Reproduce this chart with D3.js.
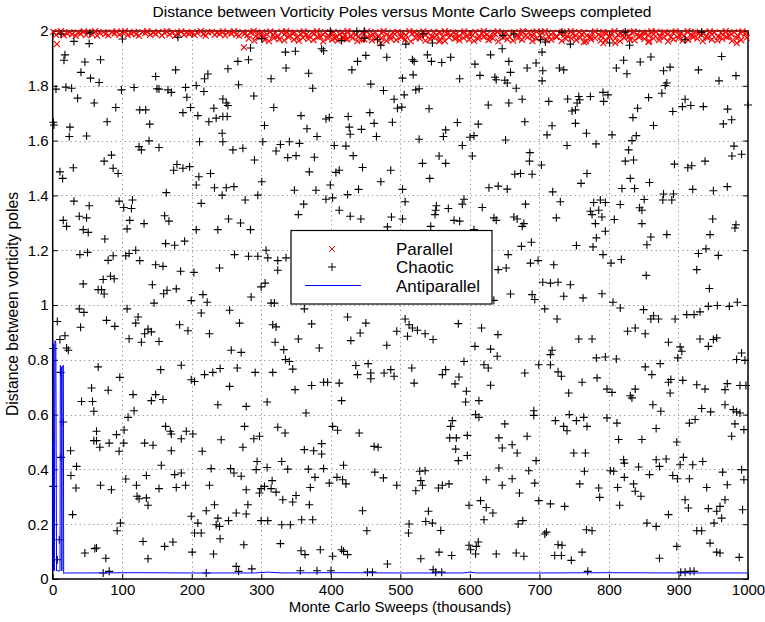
<!DOCTYPE html>
<html>
<head>
<meta charset="utf-8">
<script src="https://cdn.jsdelivr.net/npm/d3@7"></script>
<style>
  body { margin: 0; background: #fff; }
  svg { display: block; font-family: "Liberation Sans", Arial, Helvetica, sans-serif; }
</style>
</head>
<body>
<div id="chart"></div>
<script>
'use strict';

var outerWidth = 765;
var outerHeight = 622;

// tick values
var xTicks = [0, 100, 200, 300, 400, 500, 600, 700, 800, 900, 1000];
var yTicks = [0, 0.2, 0.4, 0.6, 0.8, 1, 1.2, 1.4, 1.6, 1.8, 2];

var titleText = 'Distance between Vorticity Poles versus Monte Carlo Sweeps completed';
var xLabelText = 'Monte Carlo Sweeps (thousands)';
var yLabelText = 'Distance between vorticity poles';
var seriesNames = ['Parallel', 'Chaotic', 'Antiparallel'];

// parallel run: sits right at the top, a dense red band
var parallelX = [
  1,5,9,12,16,21,24,28,33,36, 40,45,48,52,57,61,64,68,73,76,
  80,85,89,92,96,101,104,108,113,117, 120,124,129,133,136,140,145,148,152,157,
  161,164,168,173,176,180,185,189,192,196, 201,204,208,213,217,220,224,229,233,236,
  240,245,248,252,257,261,264,268,273,276, 280,285,289,292,296,301,304,308,313,317,
  320,324,329,333,336,340,345,348,352,357, 361,364,368,373,376,380,385,389,392,396,
  401,404,408,413,417,420,424,429,433,436, 440,445,448,452,457,461,464,468,473,476,
  480,485,489,492,496,501,504,508,513,517, 520,524,529,533,536,540,545,548,552,557,
  561,564,568,573,576,580,585,589,592,596, 601,604,608,613,617,620,624,629,633,636,
  640,645,648,652,657,661,664,668,673,676, 680,685,689,692,696,701,704,708,713,717,
  720,724,729,733,736,740,745,748,752,757, 761,764,768,773,776,780,785,789,792,796,
  801,804,808,813,817,820,824,829,833,836, 840,845,848,852,857,861,864,868,873,876,
  880,885,889,892,896,901,904,908,913,917, 920,924,929,933,936,940,945,948,952,957,
  961,964,968,973,976,980,985,989,992,996
];
var parallelY = [
  1.997,1.986,1.993,1.999,1.984,1.991,1.996,1.988,1.982,1.995,
  1.990,1.998,1.985,1.994,1.987,1.999,1.983,1.992,1.996,1.989,
  1.984,1.995,1.991,1.998,1.986,1.993,1.999,1.985,1.990,1.997,
  1.988,1.983,1.996,1.992,1.999,1.986,1.994,1.989,1.997,1.984,
  1.993,1.999,1.987,1.995,1.982,1.991,1.998,1.986,1.994,1.990,
  1.996,1.985,1.992,1.999,1.988,1.983,1.995,1.997,1.986,1.993,
  1.989,1.998,1.984,1.994,1.991,1.999,1.987,1.982,1.996,1.990,
  1.985,1.994,1.999,1.981,1.990,1.996,1.979,1.988,1.998,1.984,
  1.992,1.980,1.997,1.987,1.999,1.983,1.991,1.995,1.978,1.989,
  1.998,1.985,1.982,1.994,1.990,1.999,1.980,1.987,1.996,1.983,
  1.991,1.997,1.979,1.988,1.995,1.984,1.999,1.981,1.993,1.986,
  1.980,1.994,1.990,1.998,1.983,1.987,1.996,1.979,1.992,1.999,
  1.986,1.981,1.995,1.989,1.997,1.978,1.993,1.984,1.999,1.990,
  1.995,1.988,1.982,1.998,1.985,1.992,1.980,1.997,1.987,1.994,
  1.979,1.999,1.991,1.984,1.996,1.988,1.981,1.993,1.998,1.983,
  1.990,1.985,1.997,1.980,1.992,1.999,1.986,1.978,1.995,1.989,
  1.998,1.982,1.988,1.994,1.979,1.991,1.996,1.984,1.990,1.999,
  1.983,1.996,1.980,1.989,1.998,1.985,1.993,1.999,1.981,1.987,
  1.994,1.979,1.992,1.997,1.986,1.982,1.999,1.990,1.984,1.996,
  1.988,1.995,1.983,1.978,1.993,1.998,1.987,1.981,1.997,1.991,
  1.980,1.992,1.999,1.986,1.990,1.984,1.996,1.979,1.994,1.998,
  1.987,1.981,1.995,1.991,1.983,1.999,1.988,1.997,1.980,1.993,
  1.996,1.989,1.978,1.994,1.998,1.985,1.991,1.982,1.999,1.986,
  1.982,1.997,1.990,1.985,1.993,1.980,1.998,1.988,1.995,1.979,
  1.993,1.986,1.999,1.981,1.989,1.996,1.984,1.992,1.998,1.990
];
// lower edge of the band, from ~280k sweeps on it gets thicker
var parallelLowX = [
  282,290,297,305,311,318,326,333,339,347, 354,360,368,375,381,389,396,402,410,417,
  423,431,438,444,452,459,465,473,480,486, 494,501,507,515,522,528,536,543,549,557,
  564,570,578,585,591,599,606,612,620,627, 633,641,648,654,662,669,675,683,690,696,
  704,711,717,725,732,738,746,753,759,767, 774,780,788,795,801,809,816,822,830,837,
  843,851,858,864,872,879,885,893,900,906, 914,921,927,935,942,948,956,963,969,977,
  984,990,998
];
var parallelLowY = [
  1.972,1.965,1.976,1.968,1.963,1.974,1.970,1.966,1.977,1.969,
  1.964,1.975,1.971,1.967,1.978,1.962,1.973,1.969,1.965,1.976,
  1.970,1.974,1.963,1.968,1.977,1.966,1.972,1.975,1.964,1.971,
  1.967,1.978,1.969,1.962,1.974,1.973,1.965,1.970,1.976,1.968,
  1.963,1.977,1.972,1.966,1.975,1.969,1.964,1.971,1.978,1.967,
  1.973,1.962,1.976,1.970,1.965,1.974,1.968,1.977,1.963,1.972,
  1.975,1.966,1.969,1.978,1.964,1.971,1.973,1.967,1.976,1.962,
  1.970,1.974,1.965,1.968,1.977,1.972,1.963,1.975,1.969,1.966,
  1.978,1.971,1.964,1.973,1.967,1.976,1.962,1.970,1.974,1.965,
  1.968,1.977,1.972,1.963,1.975,1.969,1.966,1.971,1.978,1.964,
  1.973,1.967,1.976
];
// stray parallel points below the band
var parallelOutX = [6, 275, 405, 419, 448, 472, 556, 580, 764, 792, 809, 857, 984];
var parallelOutY = [1.952, 1.940, 1.974, 1.974, 1.970, 1.956, 1.962, 1.974, 1.960, 1.956, 1.956, 1.960, 1.956];

// chaotic run: [sweeps (thousands), distance]
var chaoticPoints = [
  // 0-250, upper third
  [11.9,1.989],[53.5,1.993],[180.1,1.977],[30.5,1.962],[52.5,1.954],[100.3,1.971],[17.6,1.913],[16.2,1.893],
  [46.3,1.887],[68.8,1.895],[40.6,1.849],[54.4,1.828],[66.8,1.812],[176.8,1.858],[148.1,1.834],[223.2,1.843],
  [218.4,1.826],[4.7,1.788],[19.0,1.795],[27.2,1.791],[98.9,1.785],[117.0,1.794],[150.0,1.789],[152.9,1.788],
  [165.8,1.785],[170.6,1.776],[191.1,1.794],[206.4,1.801],[217.4,1.779],[35.8,1.755],[59.7,1.737],[90.7,1.721],
  [125.2,1.712],[133.8,1.712],[193.0,1.758],[198.3,1.721],[187.3,1.702],[231.8,1.718],[244.7,1.752],[208.8,1.691],
  [224.6,1.669],[235.1,1.682],[244.7,1.688],[0.9,1.667],[1.8,1.657],[24.8,1.649],[78.3,1.669],[139.5,1.660],
  [23.8,1.615],[48.7,1.617],[243.7,1.627],[124.2,1.578],[127.6,1.566],[138.5,1.599],[152.9,1.575],[211.2,1.596],
  [244.7,1.596],[84.5,1.547],[74.0,1.525],[86.9,1.499],[94.1,1.480],[10.4,1.486],[14.3,1.462],[29.6,1.501],
  [178.7,1.513],[174.0,1.492],[187.3,1.499],[196.9,1.505],[210.2,1.468],[227.0,1.480],[206.4,1.438],[232.7,1.428],
  [243.7,1.401],[163.4,1.410],[213.6,1.371],[30.5,1.379],[52.5,1.362],[95.5,1.379],[102.2,1.356],[114.7,1.383],
  [113.2,1.352],
  // 250-500, upper third
  [399.2,1.999],[437.4,1.999],[448.0,1.999],[300.7,1.972],[415.5,1.965],[448.0,1.974],[467.1,1.968],[471.9,1.948],
  [284.5,1.938],[334.7,1.923],[349.0,1.926],[386.8,1.935],[389.6,1.928],[266.3,1.889],[281.6,1.895],[438.4,1.889],
  [450.4,1.911],[480.5,1.904],[430.3,1.858],[335.6,1.865],[368.1,1.846],[314.1,1.826],[252.0,1.862],[267.3,1.804],
  [373.9,1.791],[457.5,1.806],[475.7,1.783],[289.3,1.763],[491.0,1.751],[495.8,1.718],[249.6,1.737],[252.0,1.728],
  [317.9,1.721],[251.0,1.688],[357.1,1.691],[393.0,1.679],[397.8,1.684],[425.0,1.688],[456.1,1.702],[462.3,1.663],
  [304.6,1.655],[365.7,1.643],[380.1,1.615],[426.5,1.649],[427.9,1.623],[444.1,1.641],[465.6,1.615],[488.6,1.667],
  [302.2,1.596],[327.5,1.586],[340.4,1.596],[354.8,1.590],[321.3,1.562],[259.2,1.566],[273.5,1.572],[405.0,1.582],
  [421.7,1.580],[290.2,1.529],[338.0,1.538],[350.0,1.545],[376.3,1.539],[432.2,1.545],[445.6,1.502],[369.1,1.486],
  [407.3,1.484],[412.1,1.492],[486.2,1.492],[300.7,1.450],[471.9,1.450],[399.2,1.438],[249.6,1.428],[260.6,1.432],
  [347.6,1.419],[378.6,1.419],[439.8,1.422],[295.0,1.401],[276.8,1.383],[393.0,1.386],[402.6,1.391],[424.1,1.403],
  [361.0,1.368],[412.1,1.346],
  // 500-750, upper third
  [532.7,1.989],[663.2,1.989],[647.4,1.984],[732.5,1.996],[507.9,1.952],[546.1,1.956],[701.5,1.968],[708.6,1.960],
  [744.5,1.952],[538.9,1.913],[517.4,1.895],[519.8,1.889],[544.7,1.889],[559.5,1.885],[572.4,1.904],[629.8,1.913],
  [646.5,1.935],[703.8,1.923],[607.3,1.879],[656.0,1.889],[682.3,1.865],[695.2,1.883],[704.8,1.855],[728.7,1.865],
  [735.0,1.858],[503.1,1.828],[518.4,1.840],[585.3,1.826],[614.5,1.838],[636.0,1.831],[637.9,1.822],[650.3,1.820],
  [653.7,1.810],[658.4,1.849],[666.6,1.791],[703.8,1.818],[522.2,1.785],[527.0,1.789],[505.5,1.767],[502.1,1.722],
  [541.3,1.716],[626.4,1.730],[656.0,1.737],[675.2,1.751],[713.4,1.743],[740.6,1.752],[746.9,1.708],[582.0,1.666],
  [612.1,1.660],[679.0,1.669],[718.2,1.654],[711.0,1.621],[565.2,1.639],[561.9,1.615],[600.1,1.612],[605.9,1.618],
  [651.3,1.602],[527.0,1.605],[589.1,1.582],[739.7,1.582],[555.7,1.544],[565.2,1.517],[531.8,1.517],[603.5,1.544],
  [686.2,1.556],[685.7,1.525],[702.9,1.511],[542.3,1.462],[664.6,1.477],[672.8,1.480],[689.5,1.477],[627.4,1.428],
  [640.7,1.434],[653.7,1.423],[719.1,1.413],[503.1,1.422],[506.9,1.377],[730.1,1.377],[680.0,1.368],[551.8,1.362],
  [550.9,1.346],[569.0,1.352],[589.1,1.368],[591.5,1.386],[617.8,1.356],
  // 750-1000, upper third
  [823.5,1.996],[933.4,1.996],[909.5,1.968],[801.0,1.956],[829.7,1.948],[962.1,1.907],[821.1,1.893],[845.0,1.887],
  [860.3,1.905],[810.6,1.865],[825.9,1.844],[878.5,1.855],[888.0,1.868],[928.7,1.858],[982.7,1.837],[958.3,1.818],
  [880.9,1.801],[883.2,1.810],[756.6,1.761],[754.2,1.737],[758.0,1.749],[751.8,1.712],[773.3,1.761],[791.5,1.776],
  [798.6,1.767],[792.4,1.743],[857.0,1.757],[876.1,1.773],[909.5,1.751],[905.7,1.724],[917.7,1.728],[935.8,1.724],
  [841.2,1.718],[834.5,1.684],[891.8,1.706],[970.7,1.715],[976.5,1.676],[964.5,1.661],[864.1,1.655],[751.8,1.663],
  [767.6,1.627],[804.4,1.621],[839.3,1.618],[833.1,1.600],[781.4,1.588],[828.3,1.566],[823.5,1.525],[835.4,1.529],
  [979.8,1.580],[976.9,1.544],[990.8,1.550],[894.2,1.514],[913.4,1.501],[919.1,1.508],[938.2,1.525],[768.5,1.480],
  [759.9,1.444],[830.7,1.462],[818.7,1.425],[836.9,1.425],[858.4,1.447],[920.5,1.422],[950.2,1.417],[970.2,1.432],
  [878.5,1.405],[892.8,1.405],[877.5,1.383],[890.4,1.383],[850.7,1.385],[778.1,1.374],[787.6,1.383],[794.8,1.374],
  [816.3,1.367],[844.0,1.355],[847.4,1.346],[773.3,1.342],[785.3,1.346],[1000,1.730],
  // 0-250, middle third
  [15.2,1.309],[20.0,1.287],[38.2,1.324],[48.7,1.318],[43.9,1.275],[51.1,1.265],[75.0,1.241],[110.8,1.309],
  [107.0,1.278],[131.4,1.297],[161.0,1.326],[167.2,1.306],[206.4,1.275],[237.5,1.275],[162.4,1.224],[175.4,1.218],
  [189.7,1.233],[39.1,1.184],[50.1,1.192],[79.8,1.163],[87.0,1.180],[105.1,1.180],[109.9,1.188],[119.4,1.200],
  [125.2,1.162],[148.1,1.147],[158.6,1.141],[184.0,1.123],[203.1,1.119],[239.9,1.135],[43.9,1.077],[72.6,1.093],
  [70.2,1.056],[65.4,1.056],[74.0,1.040],[83.1,1.105],[88.4,1.096],[143.3,1.074],[159.6,1.041],[164.4,1.054],
  [177.7,1.059],[145.7,1.007],[199.3,1.016],[216.0,1.038],[222.2,1.010],[213.6,0.971],[38.2,0.986],[44.9,0.973],
  [6.6,0.940],[40.1,0.919],[77.4,0.944],[89.3,0.922],[107.0,0.986],[122.8,0.956],[119.4,0.934],[137.1,0.912],
  [132.3,0.895],[141.9,0.902],[109.9,0.877],[127.6,0.864],[152.9,0.867],[182.5,0.928],[194.5,0.906],[225.5,0.895],
  [17.6,0.888],[10.4,0.874],[0.9,0.841],[20.0,0.843],[22.4,0.835],[11.4,0.754],[65.4,0.774],[96.5,0.736],
  [155.3,0.764],[184.9,0.780],[218.4,0.746],[230.3,0.754],[240.8,0.768],[199.3,0.727],[204.0,0.721],[55.9,0.697],
  [79.8,0.689],[115.6,0.673],[148.1,0.673],
  // 250-500, middle third
  [252.9,1.314],[270.1,1.299],[284.5,1.275],[353.3,1.330],[427.9,1.324],[443.2,1.314],[487.2,1.321],[481.4,1.285],
  [261.5,1.184],[281.6,1.178],[295.0,1.178],[306.9,1.200],[309.3,1.172],[323.7,1.162],[335.6,1.172],[323.7,1.127],
  [299.8,1.066],[305.5,1.080],[285.4,1.029],[314.1,1.007],[318.9,1.007],[254.4,0.981],[268.7,0.934],[361.9,0.986],
  [316.5,0.928],[321.3,0.920],[372.4,0.931],[424.1,0.956],[450.4,0.934],[442.2,0.898],[428.8,0.870],[494.8,0.904],
  [319.9,0.864],[353.3,0.876],[332.3,0.837],[383.4,0.843],[256.8,0.835],[271.1,0.827],[480.5,0.853],[334.7,0.801],
  [340.4,0.794],[345.2,0.766],[265.4,0.770],[291.2,0.754],[316.5,0.754],[436.0,0.779],[453.7,0.786],[438.4,0.746],
  [457.5,0.752],[457.5,0.731],[476.6,0.752],[486.2,0.764],[491.0,0.740],[372.4,0.706],[389.6,0.718],[395.4,0.718],
  [412.1,0.715],[254.4,0.703],[348.5,0.691],
  // 500-750, middle third
  [503.1,1.314],[549.9,1.330],[577.2,1.309],[585.3,1.306],[543.7,1.287],[605.9,1.275],[634.5,1.318],[637.9,1.309],
  [663.2,1.321],[668.0,1.314],[675.2,1.287],[677.6,1.297],[724.3,1.318],[655.1,1.184],[674.2,1.214],[688.5,1.229],
  [687.1,1.153],[698.1,1.162],[720.6,1.147],[640.7,1.129],[652.2,1.135],[704.8,1.083],[715.8,1.080],[726.8,1.083],
  [744.5,1.074],[735.0,1.032],[658.4,1.040],[689.5,1.038],[693.3,1.020],[634.5,1.017],[707.7,0.986],[725.4,0.949],
  [583.4,0.932],[616.8,0.916],[640.3,0.892],[506.9,0.949],[512.6,0.928],[517.4,0.916],[524.6,0.908],[535.6,0.895],
  [547.1,0.874],[510.3,0.886],[607.3,0.849],[629.8,0.839],[639.3,0.813],[718.2,0.835],[715.8,0.819],[591.5,0.794],
  [699.1,0.782],[715.8,0.782],[516.5,0.770],[620.2,0.782],[626.4,0.770],[679.0,0.752],[726.8,0.756],[731.6,0.740],
  [565.2,0.764],[560.4,0.746],[584.3,0.737],[578.6,0.712],[629.8,0.707],[519.8,0.715],[594.9,0.685],[742.1,0.679],
  // 750-1000, middle third
  [775.7,1.330],[790.0,1.321],[807.7,1.312],[780.5,1.297],[847.4,1.297],[794.8,1.269],[781.9,1.245],[860.3,1.248],
  [883.2,1.257],[945.4,1.257],[949.2,1.314],[982.7,1.293],[981.2,1.281],[753.2,1.217],[777.1,1.212],[791.5,1.184],
  [803.0,1.153],[817.8,1.166],[854.6,1.220],[928.7,1.188],[939.6,1.205],[957.3,1.181],[853.6,1.108],[926.3,1.129],
  [944.4,1.060],[762.8,1.026],[790.0,1.041],[805.8,1.010],[816.3,0.989],[849.8,0.983],[864.1,0.961],[871.3,0.949],
  [860.3,0.949],[895.2,0.949],[911.9,0.965],[922.4,0.965],[931.0,0.975],[943.0,0.995],[955.9,0.998],[973.1,0.995],
  [984.6,1.010],[826.8,0.904],[837.8,0.916],[852.2,0.895],[756.6,0.876],[775.7,0.876],[885.6,0.864],[902.4,0.847],
  [904.8,0.831],[899.0,0.807],[931.0,0.876],[943.0,0.849],[950.2,0.874],[955.0,0.880],[781.9,0.807],[794.8,0.810],
  [810.6,0.803],[873.7,0.786],[852.2,0.774],[861.7,0.746],[990.8,0.825],[983.6,0.801],[995.6,0.798],[761.4,0.718],
  [782.9,0.734],[797.2,0.693],[804.4,0.681],[830.7,0.669],[837.8,0.693],[885.6,0.718],[889.0,0.728],[906.2,0.725],
  [888.0,0.679],[926.3,0.709],[938.2,0.693],[970.2,0.713],[966.9,0.691],[988.4,0.706],[997.0,0.706],
  // 0-250, lower third
  [41.5,0.648],[57.3,0.648],[59.2,0.612],[15.2,0.573],[108.4,0.590],[117.0,0.614],[141.9,0.651],[158.6,0.655],
  [237.5,0.636],[25.7,0.468],[63.0,0.539],[63.0,0.505],[59.2,0.505],[67.8,0.481],[81.2,0.496],[91.7,0.527],
  [95.5,0.466],[102.2,0.496],[102.7,0.544],[132.3,0.496],[144.3,0.488],[162.4,0.557],[169.1,0.539],[170.6,0.529],
  [184.9,0.512],[192.1,0.539],[201.6,0.529],[215.0,0.466],[170.6,0.468],[242.3,0.508],[11.9,0.444],[34.3,0.411],
  [26.2,0.378],[33.4,0.332],[68.8,0.342],[84.5,0.326],[105.1,0.365],[120.4,0.342],[121.3,0.302],[124.2,0.293],
  [134.7,0.296],[137.1,0.269],[134.7,0.378],[152.9,0.330],[156.2,0.415],[175.4,0.381],[177.7,0.334],[184.9,0.387],
  [191.1,0.342],[227.9,0.403],[225.5,0.342],[28.6,0.235],[0.9,0.338],[9.5,0.143],[6.6,0.070],[46.3,0.095],
  [60.6,0.111],[63.0,0.113],[76.4,0.076],[81.2,0.028],[72.6,0.022],[92.7,0.176],[97.4,0.204],[129.9,0.137],
  [137.1,0.074],[161.0,0.119],[172.9,0.135],[199.3,0.229],[200.7,0.098],[204.0,0.168],[213.6,0.168],[220.8,0.022],
  [220.8,0.249],[232.7,0.271],[235.1,0.198],[239.9,0.192],[231.3,0.091],[237.5,0.222],[240.8,0.147],[208.8,0.204],
  // 250-500, lower third
  [278.3,0.630],[308.4,0.646],[415.5,0.651],[364.3,0.606],[275.9,0.557],[323.7,0.554],[334.2,0.533],[297.4,0.521],
  [289.3,0.512],[273.5,0.481],[402.6,0.557],[409.7,0.543],[440.8,0.533],[386.8,0.494],[361.9,0.472],[375.3,0.468],
  [386.8,0.456],[462.3,0.484],[468.0,0.481],[255.8,0.403],[260.6,0.387],[271.1,0.375],[294.0,0.429],[292.6,0.399],
  [308.4,0.407],[329.4,0.429],[338.0,0.401],[367.7,0.401],[389.6,0.403],[377.2,0.371],[397.8,0.350],[408.8,0.371],
  [418.3,0.415],[416.9,0.362],[421.7,0.347],[370.5,0.334],[350.0,0.305],[345.2,0.281],[330.9,0.289],[321.3,0.317],
  [314.1,0.330],[304.6,0.338],[299.8,0.330],[315.6,0.359],[297.4,0.314],[278.3,0.326],[280.7,0.271],[278.3,0.237],
  [263.9,0.241],[252.9,0.213],[299.8,0.213],[309.3,0.213],[329.4,0.198],[341.8,0.198],[358.1,0.216],[373.9,0.216],
  [369.1,0.271],[445.6,0.249],[451.8,0.176],[463.3,0.390],[475.7,0.369],[494.8,0.342],[274.9,0.125],[327.5,0.129],
  [357.1,0.103],[362.9,0.089],[384.9,0.107],[402.6,0.083],[415.5,0.107],[418.3,0.101],[424.1,0.089],[481.4,0.055],
  [263.9,0.046],[267.3,0.028],[286.4,0.037],[356.2,0.030],[380.1,0.030],[400.2,0.030],[452.7,0.025],[459.9,0.025],
  // 500-750, lower third
  [593.9,0.646],[613.0,0.651],[608.2,0.600],[613.0,0.590],[574.8,0.578],[572.4,0.557],[571.0,0.515],[580.5,0.515],
  [579.6,0.474],[583.4,0.432],[596.3,0.524],[596.3,0.451],[650.3,0.566],[641.7,0.515],[646.5,0.478],[660.8,0.490],
  [668.0,0.460],[682.3,0.521],[691.9,0.614],[691.9,0.597],[723.0,0.578],[734.9,0.557],[739.7,0.541],[743.0,0.600],
  [695.2,0.432],[527.9,0.393],[535.6,0.395],[529.4,0.359],[531.8,0.342],[522.2,0.322],[554.7,0.332],[560.4,0.342],
  [570.0,0.347],[641.7,0.405],[623.5,0.362],[646.5,0.342],[660.8,0.366],[671.3,0.314],[684.7,0.395],[693.3,0.350],
  [699.1,0.286],[715.8,0.274],[736.3,0.265],[598.7,0.269],[615.4,0.286],[623.5,0.261],[633.1,0.241],[620.2,0.216],
  [540.4,0.247],[536.5,0.210],[546.1,0.204],[512.6,0.201],[511.7,0.168],[558.1,0.177],[669.4,0.201],[676.1,0.213],
  [707.7,0.164],[710.1,0.171],[598.7,0.123],[601.1,0.107],[609.2,0.119],[612.1,0.135],[608.2,0.091],[555.7,0.098],
  [573.8,0.086],[529.4,0.074],[637.9,0.091],[666.6,0.095],[677.6,0.083],[726.8,0.125],[732.5,0.123],[722.0,0.086],
  [731.6,0.086],[745.9,0.068],[547.1,0.034],[550.9,0.025],[559.5,0.025],
  // 750-1000, lower third
  [863.2,0.636],[874.6,0.612],[833.1,0.661],[933.4,0.622],[946.3,0.610],[966.9,0.636],[978.8,0.618],[983.6,0.610],
  [988.4,0.606],[753.2,0.578],[763.7,0.590],[768.5,0.557],[797.2,0.588],[811.5,0.569],[915.7,0.569],[923.9,0.582],
  [867.9,0.549],[981.2,0.566],[976.5,0.521],[994.1,0.545],[813.9,0.509],[847.4,0.509],[897.6,0.500],[749.4,0.460],
  [766.1,0.460],[821.1,0.435],[822.1,0.423],[867.9,0.435],[882.3,0.438],[907.1,0.444],[920.5,0.417],[934.9,0.429],
  [802.0,0.395],[806.8,0.393],[842.6,0.409],[872.7,0.411],[902.4,0.417],[963.5,0.390],[990.8,0.399],[764.7,0.393],
  [758.0,0.347],[822.1,0.371],[858.4,0.381],[891.8,0.378],[898.5,0.366],[915.7,0.366],[785.3,0.332],[786.7,0.298],
  [812.5,0.334],[835.4,0.347],[837.8,0.320],[846.0,0.302],[940.6,0.334],[970.2,0.344],[966.9,0.289],[994.1,0.362],
  [815.4,0.269],[885.6,0.235],[909.5,0.289],[914.3,0.259],[943.0,0.257],[955.0,0.247],[959.7,0.265],[962.1,0.222],
  [951.1,0.204],[854.6,0.204],[867.9,0.192],[767.6,0.180],[775.7,0.176],[926.3,0.176],[933.4,0.176],[897.6,0.119],
  [945.4,0.131],[955.0,0.098],[959.7,0.095],[987.4,0.079],[872.7,0.076],[761.4,0.098],[769.5,0.028],[903.3,0.025],
  [909.5,0.025],[916.7,0.028],[922.4,0.028],[992.2,0.253]
];

// antiparallel run: a few swings at the start, then flat near zero
var antiX = [0, 0.8, 1.5, 2.3, 3.3, 4.5, 5.5, 8, 10.5, 11, 12.8, 13.2, 13.6, 15.3, 15.8, 17,
  50, 120, 200, 290, 310, 330, 400, 500, 590, 600, 610, 700, 800, 900, 1000];
var antiY = [0.50, 0.03, 0.86, 0.03, 0.87, 0.86, 0.03, 0.03, 0.03, 0.78, 0.77, 0.03, 0.77, 0.78, 0.02, 0.022,
  0.022, 0.023, 0.022, 0.022, 0.025, 0.022, 0.023, 0.022, 0.022, 0.025, 0.022, 0.022, 0.023, 0.022, 0.022];

var svg = d3.select('#chart').append('svg')
  .attr('width', outerWidth)
  .attr('height', outerHeight);

var xScale = d3.scaleLinear().domain([0, 1000]).range([52.7, 748]);
var yScale = d3.scaleLinear().domain([0, 2]).range([579, 31]);

var plotLeft = xScale.range()[0], plotRight = xScale.range()[1];
var plotTop = yScale.range()[1], plotBottom = yScale.range()[0];

// dotted grid
var grid = svg.append('g').attr('stroke', '#7a7a7a').attr('stroke-width', 1)
  .attr('stroke-dasharray', '1,3.5');
grid.selectAll('line.gx').data(xTicks.slice(1, -1)).enter().append('line')
  .attr('x1', function(d){ return Math.round(xScale(d)) + 0.5; })
  .attr('x2', function(d){ return Math.round(xScale(d)) + 0.5; })
  .attr('y1', plotTop).attr('y2', plotBottom);
grid.selectAll('line.gy').data(yTicks.slice(1, -1)).enter().append('line')
  .attr('y1', function(d){ return Math.round(yScale(d)) + 0.5; })
  .attr('y2', function(d){ return Math.round(yScale(d)) + 0.5; })
  .attr('x1', plotLeft).attr('x2', plotRight);

// axes, ticks point inward like matlab
var fmt = d3.format('~g');
function styleAxis(g){
  g.select('.domain').remove();
  g.selectAll('.tick line').attr('stroke', '#000');
  g.selectAll('text').attr('font-size', 15).attr('fill', '#000')
    .attr('font-family', '"Liberation Sans", Arial, sans-serif');
}
svg.append('g').attr('transform', 'translate(0,' + plotBottom + ')')
  .call(d3.axisBottom(xScale).tickValues(xTicks).tickFormat(fmt).tickSize(-5).tickPadding(5))
  .call(styleAxis);
svg.append('g').attr('transform', 'translate(0,' + plotTop + ')')
  .call(d3.axisTop(xScale).tickValues(xTicks).tickFormat('').tickSize(-5))
  .call(styleAxis);
svg.append('g').attr('transform', 'translate(' + plotLeft + ',0)')
  .call(d3.axisLeft(yScale).tickValues(yTicks).tickFormat(fmt).tickSize(-5).tickPadding(4))
  .call(styleAxis);
svg.append('g').attr('transform', 'translate(' + plotRight + ',0)')
  .call(d3.axisRight(yScale).tickValues(yTicks).tickFormat('').tickSize(-5))
  .call(styleAxis);

svg.append('rect')
  .attr('x', plotLeft).attr('y', plotTop)
  .attr('width', plotRight - plotLeft).attr('height', plotBottom - plotTop)
  .attr('fill', 'none').attr('stroke', '#000').attr('stroke-width', 1.5);

// markers
var crossPath = 'M-3,-3L3,3M-3,3L3,-3';
var plusPath = 'M-4,0H4M0,-4V4';

var parallelData = [];
parallelX.forEach(function(x, i){ parallelData.push([x, parallelY[i]]); });
parallelLowX.forEach(function(x, i){ parallelData.push([x, parallelLowY[i]]); });
parallelOutX.forEach(function(x, i){ parallelData.push([x, parallelOutY[i]]); });

svg.append('g').selectAll('path').data(parallelData).enter().append('path')
  .attr('d', crossPath)
  .attr('transform', function(d){ return 'translate(' + xScale(d[0]) + ',' + yScale(d[1]) + ')'; })
  .attr('stroke', '#ff0000').attr('stroke-width', 1.2).attr('fill', 'none');

svg.append('g').selectAll('path').data(chaoticPoints).enter().append('path')
  .attr('d', plusPath)
  .attr('transform', function(d){ return 'translate(' + xScale(d[0]) + ',' + yScale(d[1]) + ')'; })
  .attr('stroke', '#000').attr('stroke-width', 1.1).attr('fill', 'none');

var antiLine = d3.line()
  .x(function(d){ return xScale(d); })
  .y(function(d, i){ return yScale(antiY[i]); });
svg.append('path')
  .attr('d', antiLine(antiX))
  .attr('fill', 'none').attr('stroke', '#0000ff').attr('stroke-width', 1);

// title and labels
svg.append('text').attr('x', 402).attr('y', 17)
  .attr('text-anchor', 'middle').attr('font-size', 15.5).text(titleText);
svg.append('text').attr('x', 400).attr('y', 612)
  .attr('text-anchor', 'middle').attr('font-size', 15).text(xLabelText);
svg.append('text').attr('transform', 'translate(18,304) rotate(-90)')
  .attr('text-anchor', 'middle').attr('font-size', 15.7).text(yLabelText);

// legend
var legend = svg.append('g');
legend.append('rect')
  .attr('x', 291).attr('y', 230.5).attr('width', 201).attr('height', 73.5)
  .attr('fill', '#fff').attr('stroke', '#000').attr('stroke-width', 1.2);
var rows = [249, 267, 285.5];
legend.append('path').attr('d', crossPath)
  .attr('transform', 'translate(332,' + rows[0] + ')')
  .attr('stroke', '#ff0000').attr('stroke-width', 1).attr('fill', 'none');
legend.append('path').attr('d', plusPath)
  .attr('transform', 'translate(332,' + rows[1] + ')')
  .attr('stroke', '#000').attr('stroke-width', 1).attr('fill', 'none');
legend.append('line').attr('x1', 305).attr('x2', 361).attr('y1', rows[2]).attr('y2', rows[2])
  .attr('stroke', '#0000ff').attr('stroke-width', 1);
legend.selectAll('text').data(seriesNames).enter().append('text')
  .attr('x', 396).attr('y', function(d, i){ return rows[i]; })
  .attr('dy', '0.36em').attr('font-size', 17).text(function(d){ return d; });
</script>
</body>
</html>
